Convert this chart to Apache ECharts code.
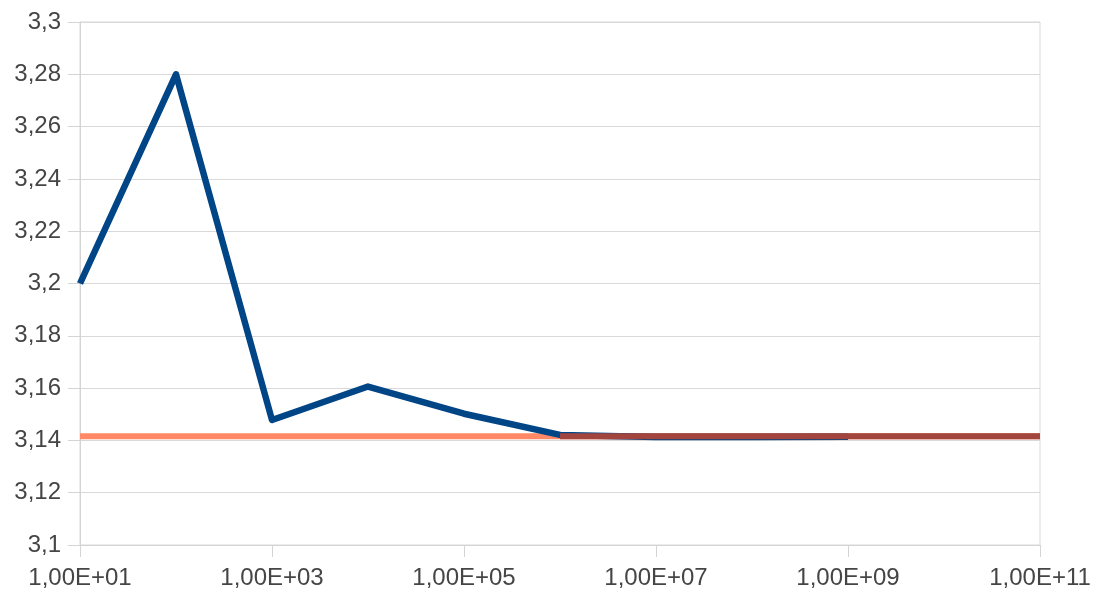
<!DOCTYPE html>
<html>
<head>
<meta charset="utf-8">
<script src="https://cdn.jsdelivr.net/npm/echarts@6/dist/echarts.min.js"></script>
<style>
html,body{margin:0;padding:0;background:#fff;}
#chart{width:1096px;height:594px;}
</style>
</head>
<body>
<div id="chart"></div>
<script>
// Data
const xValues = [1e1, 1e2, 1e3, 1e4, 1e5, 1e6, 1e7, 1e8, 1e9];
const estimateValues = [3.2, 3.28, 3.1478, 3.1606, 3.1502, 3.1421, 3.1413, 3.1413, 3.1414];
const piX = [1e1, 1e11];
const piValues = [3.14159, 3.14159];
const convX = [1e6, 1e7, 1e8, 1e9, 1e10, 1e11];
const convValues = [3.14159, 3.14159, 3.14159, 3.14159, 3.14159, 3.14159];

const zip = (xs, ys) => xs.map((x, i) => [x, ys[i]]);

function fmtX(v) {
  const e = Math.round(Math.log10(v));
  return '1,00E+' + (e < 10 ? '0' + e : '' + e);
}
function fmtY(v) {
  return (+v.toFixed(2)).toString().replace('.', ',');
}

const chart = echarts.init(document.getElementById('chart'));
chart.setOption({
  animation: false,
  backgroundColor: '#ffffff',
  grid: { left: 80, right: 56, top: 22, bottom: 49, show: true, borderColor: '#d9d9d9', borderWidth: 1 },
  xAxis: {
    type: 'log', logBase: 10, min: 10, max: 1e11, interval: 2,
    axisLine: { show: true, lineStyle: { color: '#d4d4d4', width: 1 } },
    axisTick: { show: true, length: 12, lineStyle: { color: '#d4d4d4' } },
    splitLine: { show: false },
    axisLabel: { formatter: fmtX, color: '#454545', fontFamily: 'Liberation Sans', fontSize: 24, margin: 21 }
  },
  yAxis: {
    type: 'value', min: 3.1, max: 3.3, interval: 0.02,
    axisLine: { show: true, lineStyle: { color: '#d4d4d4', width: 1 } },
    axisTick: { show: true, length: 12, lineStyle: { color: '#d4d4d4' } },
    splitLine: { show: true, lineStyle: { color: '#d9d9d9', width: 1 } },
    axisLabel: { formatter: fmtY, color: '#454545', fontFamily: 'Liberation Sans', fontSize: 24, margin: 19 }
  },
  series: [
    { name: 'pi', type: 'line', data: zip(piX, piValues), showSymbol: false, symbol: 'none',
      lineStyle: { color: '#ff8866', width: 6 }, z: 2 },
    { name: 'estimate', type: 'line', data: zip(xValues, estimateValues), showSymbol: false, symbol: 'none',
      lineStyle: { color: '#004586', width: 6.5, join: 'round' }, z: 3 },
    { name: 'converged', type: 'line', data: zip(convX, convValues), showSymbol: false, symbol: 'none',
      lineStyle: { color: '#a3453f', width: 6 }, z: 4 }
  ]
});
</script>
</body>
</html>
